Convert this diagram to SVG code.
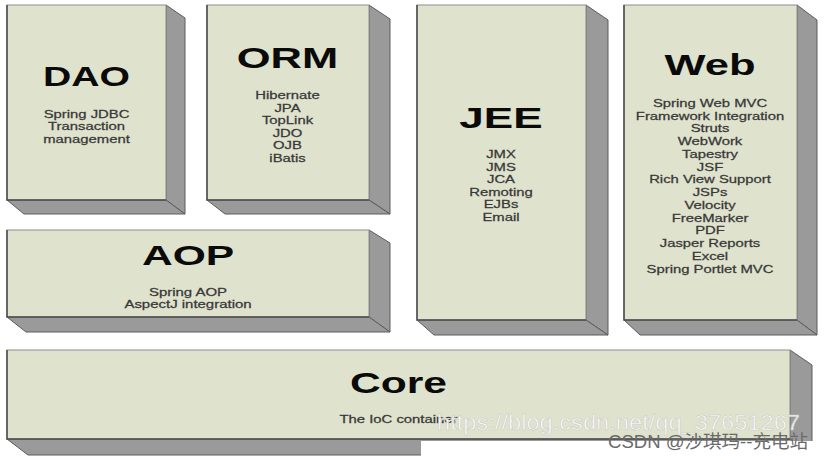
<svg xmlns="http://www.w3.org/2000/svg" width="825" height="460" viewBox="0 0 825 460">
<style>
.front{fill:#dfe2cc;stroke:#8e8e8e;stroke-width:1}
.edge{fill:none;stroke:#4a4a4a;stroke-width:1.5}
.side{fill:#9a9a9a;stroke:#5c5c5c;stroke-width:1}
.title{font-family:"Liberation Sans",Arial,sans-serif;font-weight:bold;fill:#0a0a0a;text-anchor:middle}
.item{font-family:"Liberation Sans",Arial,sans-serif;font-size:11px;fill:#383838;stroke:#383838;stroke-width:0.25;text-anchor:middle}
.wm{font-family:"Liberation Sans",Arial,sans-serif;font-size:22px;fill:#ffffff;fill-opacity:0.85;stroke:#c8c8c8;stroke-width:0.5}
.csdn{font-family:"Liberation Sans","Noto Sans CJK SC",sans-serif;font-size:18px;fill:#6a6a6a}
</style>
<rect width="825" height="460" fill="#ffffff"/>

<g id="dao">
<polygon class="side" points="166,5 185,18 185,214 166,200"/>
<polygon class="side" points="7,200 166,200 185,214 24,214"/>
<rect class="front" x="7" y="5" width="159" height="195"/>
<polyline class="edge" points="7,5 7,200 166,200"/>
<text class="title" font-size="27" transform="translate(86.5,86) scale(1.45,1)">DAO</text>
<g transform="translate(86.5,0) scale(1.35,1)">
<text class="item" x="0" y="118">Spring JDBC</text>
<text class="item" x="0" y="130.5">Transaction</text>
<text class="item" x="0" y="143">management</text>
</g>
</g>

<g id="orm">
<polygon class="side" points="369,5 390,19 390,214 369,200"/>
<polygon class="side" points="207,200 369,200 390,214 225,214"/>
<rect class="front" x="207" y="5" width="162" height="195"/>
<polyline class="edge" points="207,5 207,200 369,200"/>
<text class="title" font-size="30" transform="translate(287.5,68) scale(1.45,1)">ORM</text>
<g transform="translate(287.5,0) scale(1.35,1)">
<text class="item" x="0" y="99">Hibernate</text>
<text class="item" x="0" y="111.6">JPA</text>
<text class="item" x="0" y="124.2">TopLink</text>
<text class="item" x="0" y="136.8">JDO</text>
<text class="item" x="0" y="149.4">OJB</text>
<text class="item" x="0" y="162">iBatis</text>
</g>
</g>

<g id="aop">
<polygon class="side" points="369,230 390,243 390,332 369,317"/>
<polygon class="side" points="7,317 369,317 390,332 26,332"/>
<rect class="front" x="7" y="230" width="362" height="87"/>
<polyline class="edge" points="7,230 7,317 369,317"/>
<text class="title" font-size="28" transform="translate(188,265) scale(1.52,1)">AOP</text>
<g transform="translate(188,0) scale(1.36,1)">
<text class="item" x="0" y="296">Spring AOP</text>
<text class="item" x="0" y="308.5">AspectJ integration</text>
</g>
</g>

<g id="jee">
<polygon class="side" points="586,5 608,20 608,335 586,320"/>
<polygon class="side" points="417,320 586,320 608,335 434,335"/>
<rect class="front" x="417" y="5" width="169" height="315"/>
<polyline class="edge" points="417,5 417,320 586,320"/>
<text class="title" font-size="30" transform="translate(501,128) scale(1.47,1)">JEE</text>
<g transform="translate(501,0) scale(1.35,1)">
<text class="item" x="0" y="158.5">JMX</text>
<text class="item" x="0" y="171">JMS</text>
<text class="item" x="0" y="183.5">JCA</text>
<text class="item" x="0" y="196">Remoting</text>
<text class="item" x="0" y="208.5">EJBs</text>
<text class="item" x="0" y="221">Email</text>
</g>
</g>

<g id="web">
<polygon class="side" points="797,5 817,20 817,335 797,320"/>
<polygon class="side" points="624,320 797,320 817,335 640,335"/>
<rect class="front" x="624" y="5" width="173" height="315"/>
<polyline class="edge" points="624,5 624,320 797,320"/>
<text class="title" font-size="30" transform="translate(710,75) scale(1.45,1)">Web</text>
<g transform="translate(710,0) scale(1.35,1)">
<text class="item" x="0" y="107">Spring Web MVC</text>
<text class="item" x="0" y="119.75">Framework Integration</text>
<text class="item" x="0" y="132.5">Struts</text>
<text class="item" x="0" y="145.25">WebWork</text>
<text class="item" x="0" y="158">Tapestry</text>
<text class="item" x="0" y="170.75">JSF</text>
<text class="item" x="0" y="183.5">Rich View Support</text>
<text class="item" x="0" y="196.25">JSPs</text>
<text class="item" x="0" y="209">Velocity</text>
<text class="item" x="0" y="221.75">FreeMarker</text>
<text class="item" x="0" y="234.5">PDF</text>
<text class="item" x="0" y="247.25">Jasper Reports</text>
<text class="item" x="0" y="260">Excel</text>
<text class="item" x="0" y="272.75">Spring Portlet MVC</text>
</g>
</g>

<g id="core">
<polygon class="side" points="790,350 812,365 812,455 790,439"/>
<polygon class="side" points="7,439 790,439 812,455 28,455"/>
<rect class="front" x="7" y="350" width="783" height="89"/>
<polyline class="edge" points="7,350 7,439 790,439"/>
<text class="title" font-size="30" transform="translate(398.5,393) scale(1.42,1)">Core</text>
<g transform="translate(398.5,0) scale(1.35,1)">
<text class="item" x="0" y="423">The IoC container</text>
</g>
</g>

<g id="watermark">
<rect x="421" y="441" width="404" height="19" fill="#ffffff"/>
<text class="wm" x="437" y="430" textLength="363" lengthAdjust="spacingAndGlyphs">https://blog.csdn.net/qq_37651267</text>
<text class="csdn" x="608" y="448" textLength="200" lengthAdjust="spacingAndGlyphs">CSDN @沙琪玛--充电站</text>
</g>
</svg>
